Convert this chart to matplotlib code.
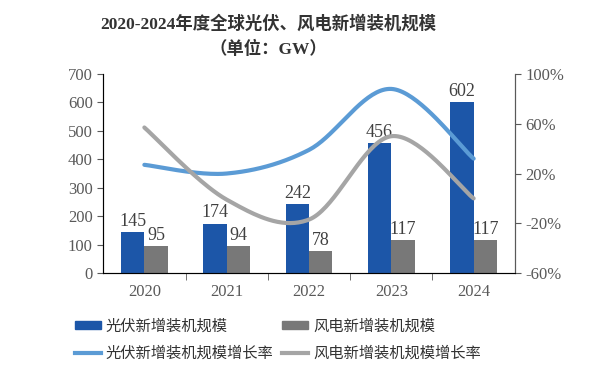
import matplotlib.pyplot as plt
import numpy as np
from matplotlib.patches import Patch
from matplotlib.lines import Line2D

years = ["2020", "2021", "2022", "2023", "2024"]
solar_gw = [145, 174, 242, 456, 602]
wind_gw = [95, 94, 78, 117, 117]
solar_growth = [27, 20, 39, 88, 32]
wind_growth = [57, -1, -17, 50, 0]

SOLAR_BAR = "#1c56a8"
WIND_BAR = "#787878"
SOLAR_LINE = "#5b9bd5"
WIND_LINE = "#a5a5a5"
AXIS_GREY = "#595959"
SERIF = ["Liberation Serif", "Noto Sans CJK SC"]
CJK = ["Noto Sans CJK SC", "DejaVu Sans"]


def smooth(xs, ys, n=40):
    # Bezier smoothing similar to office chart "smoothed line"
    xs = np.asarray(xs, float)
    ys = np.asarray(ys, float)
    px = np.concatenate([[xs[0]], xs, [xs[-1]]])
    py = np.concatenate([[ys[0]], ys, [ys[-1]]])
    outx, outy = [], []
    t = np.linspace(0, 1, n)
    for i in range(1, len(px) - 2):
        p0 = np.array([px[i], py[i]])
        p3 = np.array([px[i + 1], py[i + 1]])
        p1 = p0 + (np.array([px[i + 1], py[i + 1]]) - np.array([px[i - 1], py[i - 1]])) / 6
        p2 = p3 - (np.array([px[i + 2], py[i + 2]]) - np.array([px[i], py[i]])) / 6
        b = ((1 - t) ** 3)[:, None] * p0 + (3 * (1 - t) ** 2 * t)[:, None] * p1 \
            + (3 * (1 - t) * t ** 2)[:, None] * p2 + (t ** 3)[:, None] * p3
        outx.extend(b[:, 0])
        outy.extend(b[:, 1])
    return np.array(outx), np.array(outy)


fig = plt.figure(figsize=(6, 3.7), dpi=100)
ax = fig.add_axes([0.172, 0.262, 0.686, 0.538])
x = np.arange(len(years))
w = 0.285

ax.bar(x - w / 2, solar_gw, w, color=SOLAR_BAR)
ax.bar(x + w / 2, wind_gw, w, color=WIND_BAR)
for xi, v in zip(x, solar_gw):
    ax.text(xi - w / 2, v + 8, str(v), ha="center", va="bottom",
            fontsize=13, family=SERIF, color="#404040")
for xi, v in zip(x, wind_gw):
    ax.text(xi + w / 2, v + 8, str(v), ha="center", va="bottom",
            fontsize=13, family=SERIF, color="#404040")

ax.set_xlim(-0.5, len(years) - 0.5)
ax.set_ylim(0, 700)
ax.set_yticks(range(0, 701, 100))
ax.set_xticks(x)
ax.set_xticklabels(years)
ax.set_xticks(np.arange(0.5, len(years) - 1, 1), minor=True)
ax.tick_params(axis="x", which="major", length=0, pad=8)
ax.tick_params(axis="x", which="minor", length=5, color=AXIS_GREY)
ax.tick_params(axis="y", length=4, color=AXIS_GREY)
ax.spines["top"].set_visible(False)
for s in ["left", "bottom", "right"]:
    ax.spines[s].set_color(AXIS_GREY)

ax2 = ax.twinx()
sx, sy = smooth(x, solar_growth)
ax2.plot(sx, sy, color=SOLAR_LINE, lw=3, solid_capstyle="round")
wx, wy = smooth(x, wind_growth)
ax2.plot(wx, wy, color=WIND_LINE, lw=3, solid_capstyle="round")
ax2.set_ylim(-60, 100)
ax2.set_yticks(range(-60, 101, 40))
ax2.set_yticklabels([f"{v}%" for v in range(-60, 101, 40)])
ax2.tick_params(axis="y", length=4, color=AXIS_GREY)
ax2.spines["top"].set_visible(False)
ax2.spines["right"].set_color(AXIS_GREY)

for a in (ax, ax2):
    for lab in a.get_xticklabels() + a.get_yticklabels():
        lab.set_family(SERIF)
        lab.set_fontsize(12)
        lab.set_color(AXIS_GREY)

fig.text(0.447, 0.937, "2020-2024年度全球光伏、风电新增装机规模", ha="center", va="center",
         fontsize=12.5, fontweight="bold", family=SERIF, color="#333333")
fig.text(0.447, 0.866, "（单位：GW）", ha="center", va="center",
         fontsize=12.5, fontweight="bold", family=SERIF, color="#333333")

handles = [
    Patch(color=SOLAR_BAR),
    Line2D([], [], color=SOLAR_LINE, lw=3),
    Patch(color=WIND_BAR),
    Line2D([], [], color=WIND_LINE, lw=3),
]
labels = ["光伏新增装机规模", "光伏新增装机规模增长率", "风电新增装机规模", "风电新增装机规模增长率"]
fig.legend(handles, labels, loc="center", bbox_to_anchor=(0.463, 0.082), ncol=2,
           frameon=False, prop={"family": CJK, "size": 11, "weight": "medium"},
           handlelength=1.7, handleheight=0.5, handletextpad=0.3,
           columnspacing=0.6, labelspacing=0.7, labelcolor="#333333")

fig.savefig("out.png", dpi=100)
